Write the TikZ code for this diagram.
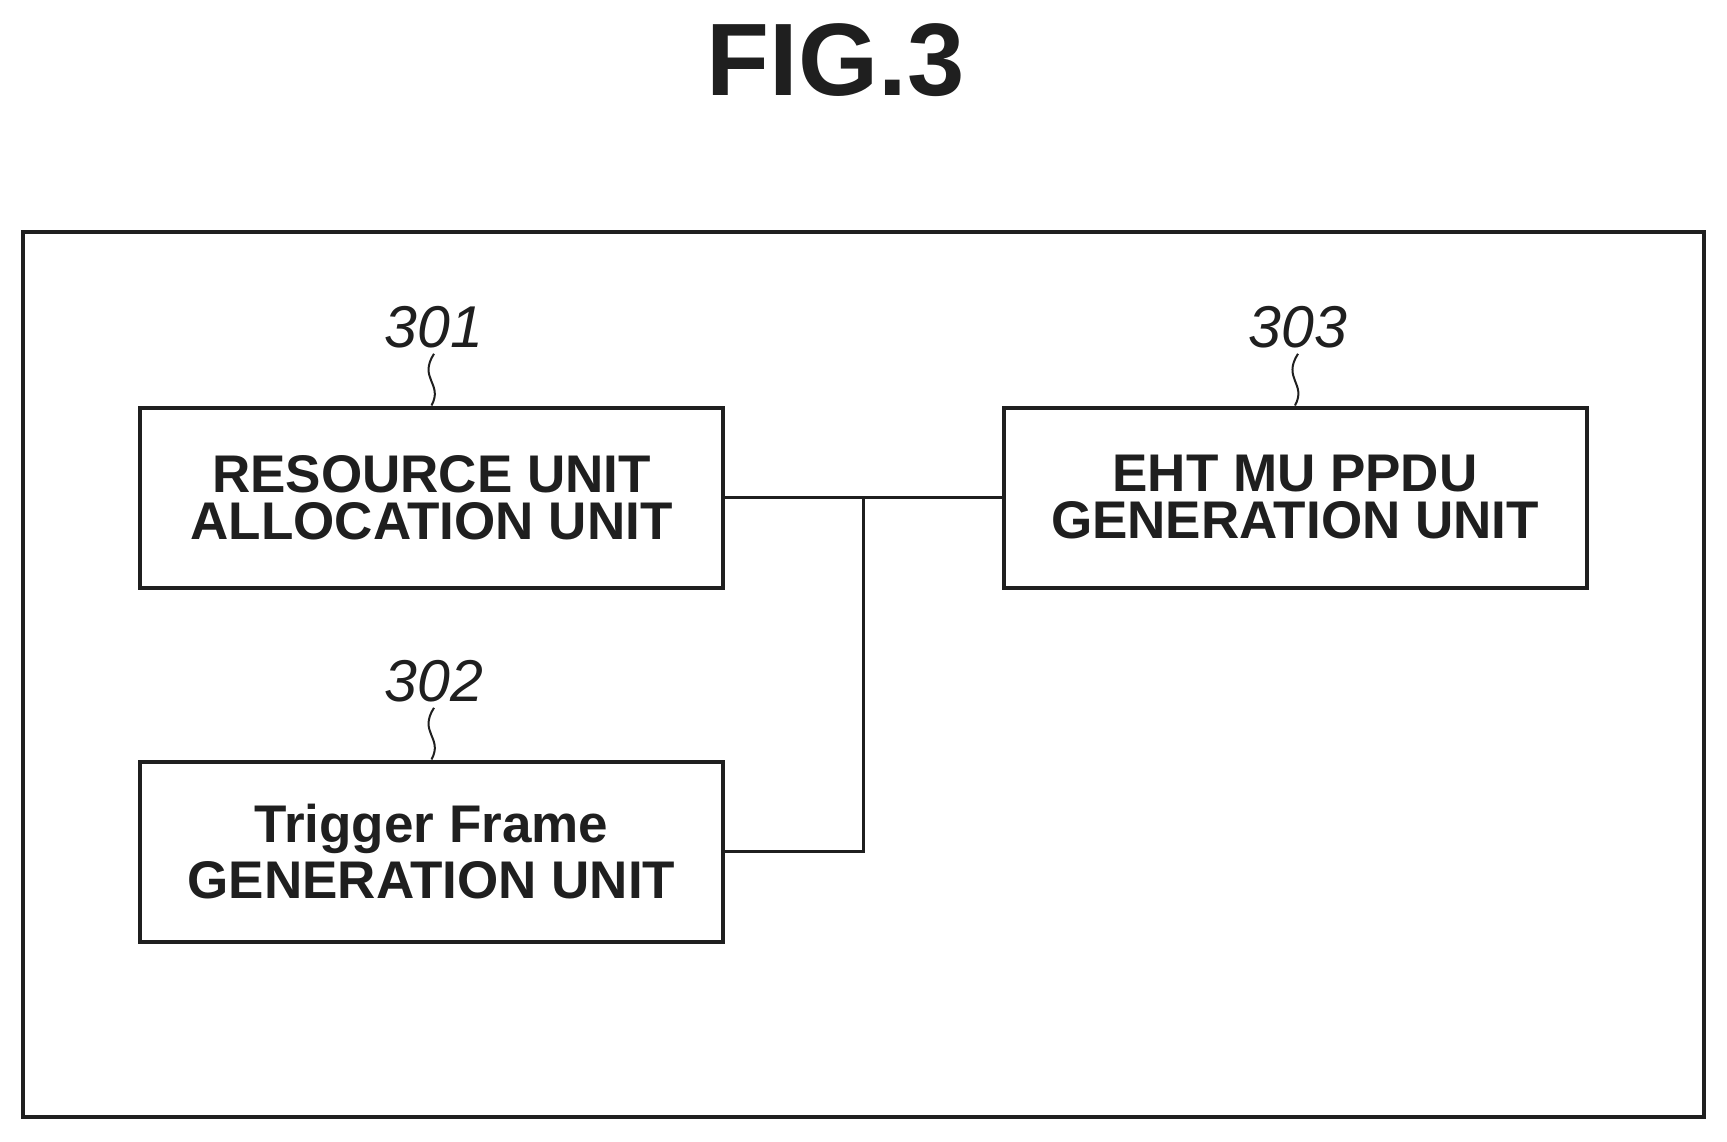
\documentclass[tikz,border=0pt]{standalone}
\usepackage{fontspec}
\setmainfont{Liberation Sans}
\definecolor{inkgray}{gray}{0.12}

\begin{document}
\begin{tikzpicture}[x=1pt,y=1pt,color=inkgray]
\tikzstyle{every node}+=[inner sep=0pt]
\tikzstyle{unitbox}=[draw=inkgray,line width=4pt,minimum width=583pt,minimum height=180pt,align=center,font=\fontsize{53}{47}\selectfont\bfseries]
\tikzstyle{reflabel}=[anchor=base,font=\fontsize{59}{59}\selectfont\itshape]
\useasboundingbox (0,0) rectangle (1727,-1141);
\node (title) at (835.5,-60) {\fontsize{103}{103}\selectfont\bfseries FIG.3};
\node [draw=inkgray,line width=3.5pt,minimum width=1681pt,minimum height=885pt] (frame) at (863.5,-674.5) {};
\node [unitbox] (alloc) at (431.5,-497.5) {RESOURCE UNIT\\ALLOCATION UNIT};
\node [unitbox] (trigger) at (431.5,-851.5) {Trigger Frame\\[6pt]GENERATION UNIT};
\node [unitbox] (ppdu) at (1295,-497.5) {EHT MU PPDU\\GENERATION UNIT};
\node [reflabel] (l301) at (434,-347) {301};
\node [reflabel] (l302) at (434,-701) {302};
\node [reflabel] (l303) at (1298,-347) {303};
\coordinate (junc) at (863.5,-497.5);
% lead lines
\foreach \lab/\unit in {l301/alloc,l302/trigger,l303/ppdu}
  \draw [line width=2pt] ([yshift=-6pt]\lab.south) .. controls +(-16,-25) and +(12,22) .. (\unit.north);
% connectors
\draw [line width=2.8pt] (alloc.east) -- (ppdu.west);
\draw [line width=2.8pt] (trigger.east) -| (junc);
\end{tikzpicture}
\end{document}
